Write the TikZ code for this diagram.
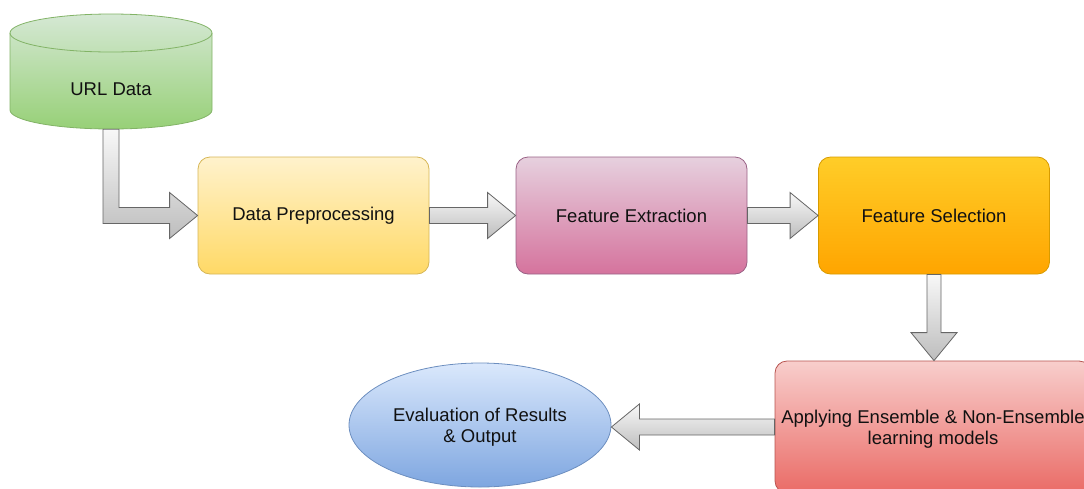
\documentclass[tikz,border=0pt]{standalone}
\usepackage{fontspec}
\setmainfont{Liberation Sans}
\usetikzlibrary{shapes.geometric,calc}
\definecolor{cylT}{HTML}{D5E8D4}\definecolor{cylB}{HTML}{97D077}\definecolor{cylD}{HTML}{82B366}
\definecolor{dpT}{HTML}{FFF2CC}\definecolor{dpB}{HTML}{FFD966}\definecolor{dpD}{HTML}{D6B656}
\definecolor{feT}{HTML}{E6D0DE}\definecolor{feB}{HTML}{D5739D}\definecolor{feD}{HTML}{996185}
\definecolor{fsT}{HTML}{FFCD28}\definecolor{fsB}{HTML}{FFA500}\definecolor{fsD}{HTML}{D79B00}
\definecolor{apT}{HTML}{F8CECC}\definecolor{apB}{HTML}{EA6B66}\definecolor{apD}{HTML}{B85450}
\definecolor{evT}{HTML}{DAE8FC}\definecolor{evB}{HTML}{7EA6E0}\definecolor{evD}{HTML}{6C8EBF}
\definecolor{arT}{HTML}{F8F8F8}\definecolor{arB}{HTML}{BDBDBD}\definecolor{arD}{HTML}{666666}
\definecolor{txt}{HTML}{111111}
\begin{document}
\begin{tikzpicture}[x=1pt,y=-1pt,
  lbl/.style={font=\fontsize{18.5}{21}\selectfont, text=txt, align=center},
  procbox/.style={lbl, rectangle, rounded corners=12pt, minimum width=231pt, minimum height=117pt, inner sep=0pt, line width=0.8pt},
  blockarrow/.style={top color=arT, bottom color=arB, draw=arD, line width=0.8pt, line join=miter}]
\useasboundingbox (0,0) rectangle (1084,488);
% cylinder
\shade[top color=cylT, bottom color=cylB, draw=cylD, line width=0.8pt]
  (10,33) -- (10,110) arc[start angle=180,end angle=0,x radius=101,y radius=19]
  -- (212,33) arc[start angle=0,end angle=-180,x radius=101,y radius=19] -- cycle;
\draw[cylD, line width=0.8pt] (10,33) arc[start angle=180,end angle=0,x radius=101,y radius=19];
\node[lbl, minimum width=202pt, minimum height=115pt, inner sep=0pt] (url) at (111,71.5) {};
\node[lbl] at (111,89) {URL Data};
% boxes
\node[procbox, top color=dpT, bottom color=dpB, draw=dpD] (dp) at (313.5,215.5) {Data Preprocessing};
\node[procbox, top color=feT, bottom color=feB, draw=feD] (fe) at (631.5,215.5) {Feature Extraction};
\node[procbox, top color=fsT, bottom color=fsB, draw=fsD] (fs) at (934,215.5) {Feature Selection};
\node[procbox, top color=apT, bottom color=apB, draw=apD, minimum width=316pt, minimum height=132pt, text depth=-2pt] (ap) at (933,427) {Applying Ensemble \& Non-Ensemble\\learning models};
\node[lbl, ellipse, top color=evT, bottom color=evB, draw=evD, line width=0.8pt, minimum width=262pt, minimum height=124pt, inner sep=0pt, text depth=-3pt] (ev) at (480,425) {Evaluation of Results\\\& Output};
% arrow URL -> DP (bent)
\shade[blockarrow]
  ($(url.south)+(-8,0)$) -- ($(url.south |- dp.west)+(-8,8)$) -- ($(dp.west)+(-28,8)$) -- ($(dp.west)+(-28,23)$)
  -- (dp.west) -- ($(dp.west)+(-28,-23)$) -- ($(dp.west)+(-28,-8)$) -- ($(url.south |- dp.west)+(8,-8)$)
  -- ($(url.south)+(8,0)$) -- cycle;
% DP -> FE
\shade[blockarrow]
  ($(dp.east)+(0,-8)$) -- ($(fe.west)+(-28,-8)$) -- ($(fe.west)+(-28,-23)$) -- (fe.west)
  -- ($(fe.west)+(-28,23)$) -- ($(fe.west)+(-28,8)$) -- ($(dp.east)+(0,8)$) -- cycle;
% FE -> FS
\shade[blockarrow]
  ($(fe.east)+(0,-8)$) -- ($(fs.west)+(-28,-8)$) -- ($(fs.west)+(-28,-23)$) -- (fs.west)
  -- ($(fs.west)+(-28,23)$) -- ($(fs.west)+(-28,8)$) -- ($(fe.east)+(0,8)$) -- cycle;
% FS -> AP
\shade[blockarrow]
  ($(fs.south)+(-7,0)$) -- ($(fs.south |- ap.north)+(-7,-28)$) -- ($(fs.south |- ap.north)+(-23,-28)$)
  -- (fs.south |- ap.north) -- ($(fs.south |- ap.north)+(23,-28)$) -- ($(fs.south |- ap.north)+(7,-28)$)
  -- ($(fs.south)+(7,0)$) -- cycle;
% AP -> EV
\shade[blockarrow]
  ($(ap.west)+(0,-8)$) -- ($(ap.west -| ev.east)+(28,-8)$) -- ($(ap.west -| ev.east)+(28,-23)$)
  -- (ap.west -| ev.east) -- ($(ap.west -| ev.east)+(28,23)$) -- ($(ap.west -| ev.east)+(28,8)$)
  -- ($(ap.west)+(0,8)$) -- cycle;
\end{tikzpicture}
\end{document}
